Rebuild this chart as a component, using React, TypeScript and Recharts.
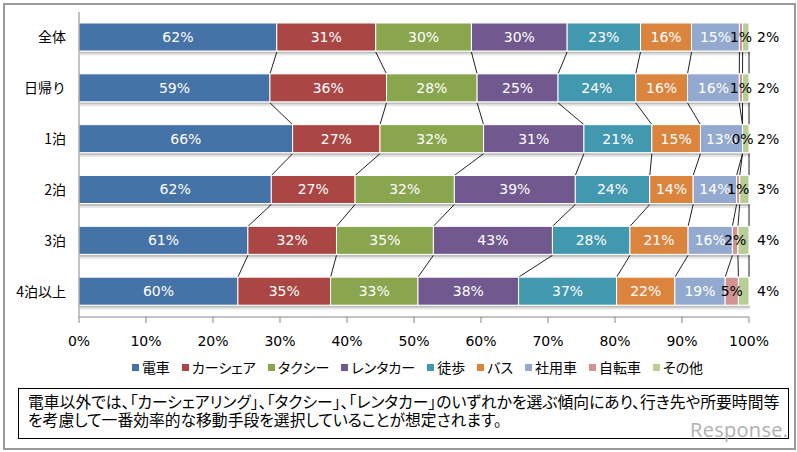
import React from 'react';
import * as R from 'recharts';

const { BarChart, Bar, XAxis, YAxis, Legend, LabelList, Customized } = R as any;

// ---- data ----
const categories = ['全体', '日帰り', '1泊', '2泊', '3泊', '4泊以上'];
const seriesNames = ['電車', 'カーシェア', 'タクシー', 'レンタカー', '徒歩', 'バス', '社用車', '自転車', 'その他'];
const seriesColors = ['#4572A7', '#AA4643', '#89A54E', '#71588F', '#4198AF', '#DB843D', '#93A9CF', '#D19392', '#B9CD96'];
const labelColors = ['#fff', '#fff', '#fff', '#fff', '#fff', '#fff', '#fff', '#000', '#000'];
const train = [62, 59, 66, 62, 61, 60];
const carShare = [31, 36, 27, 27, 32, 35];
const taxi = [30, 28, 32, 32, 35, 33];
const rentacar = [30, 25, 31, 39, 43, 38];
const walk = [23, 24, 21, 24, 28, 37];
const bus = [16, 16, 15, 14, 21, 22];
const company = [15, 16, 13, 14, 16, 19];
const bicycle = [1, 1, 0, 1, 2, 5];
const other = [2, 2, 2, 3, 4, 4];
const xTicks = [0, 0.1, 0.2, 0.3, 0.4, 0.5, 0.6, 0.7, 0.8, 0.9, 1];
const noteLines = [
  '電車以外では、「カーシェアリング」、「タクシー」、「レンタカー」のいずれかを選ぶ傾向にあり、行き先や所要時間等',
  'を考慮して一番効率的な移動手段を選択していることが想定されます。',
];

const seriesValues = [train, carShare, taxi, rentacar, walk, bus, company, bicycle, other];
const rows = categories.map((name, i) => {
  const r: any = { name };
  seriesNames.forEach((s, k) => { r[s] = seriesValues[k][i]; });
  return r;
});

// ---- layout ----
const W = 797;
const H = 452;
const MARGIN = { top: 12, right: 48, bottom: 105, left: 0 };
const BAR_SIZE = 28;
const Y_AXIS_W = 79;
const X_AXIS_H = 30;
const NUM_FONT = '"DejaVu Sans", "Noto Sans CJK JP", sans-serif';
const JP_FONT = '"Noto Sans CJK JP", sans-serif';

const usePlotAreaHook: any = (R as any).usePlotArea;

function SeriesLines() {
  const pa = usePlotAreaHook ? usePlotAreaHook() : undefined;
  const area = pa && pa.width
    ? pa
    : { x: MARGIN.left + Y_AXIS_W, y: MARGIN.top, width: W - MARGIN.left - MARGIN.right - Y_AXIS_W, height: H - MARGIN.top - MARGIN.bottom - X_AXIS_H };
  const n = categories.length;
  const step = area.height / n;
  const off = Math.floor((step - BAR_SIZE) / 2);
  const totals = categories.map((_, i) => seriesValues.reduce((s, arr) => s + arr[i], 0));
  const cum = (i: number, k: number) => {
    let s = 0;
    for (let j = 0; j <= k; j++) s += seriesValues[j][i];
    return s / totals[i];
  };
  const lines: any[] = [];
  for (let i = 0; i < n - 1; i++) {
    const yb = area.y + i * step + off + BAR_SIZE;
    const yt = area.y + (i + 1) * step + off;
    for (let k = 0; k < seriesNames.length; k++) {
      const x1 = area.x + cum(i, k) * area.width;
      const x2 = area.x + cum(i + 1, k) * area.width;
      lines.push(<line key={`${i}-${k}`} x1={x1} y1={yb + 1} x2={x2} y2={yt} stroke="#222" strokeWidth={1} />);
    }
  }
  return <g>{lines}</g>;
}

const ShadowBar = (props: any) => {
  const { x, y, width, height, fill } = props;
  if (width == null || height == null || width <= 0) return <g />;
  return (
    <g>
      <rect x={x + 1} y={y + height + 0.5} width={width} height={2} fill="#000" fillOpacity={0.25} />
      <rect x={x + 1} y={y + height + 2.5} width={width} height={2} fill="#000" fillOpacity={0.09} />
      <rect x={x} y={y} width={width} height={height} fill={fill} stroke="#fff" strokeWidth={1} />
    </g>
  );
};

const renderLegend = () => (
  <div style={{ display: 'flex', justifyContent: 'center', alignItems: 'center', gap: 12, fontFamily: JP_FONT, fontSize: 14, color: '#000', fontFeatureSettings: '"palt"', paddingLeft: 38 }}>
    {seriesNames.map((s, k) => (
      <span key={s} style={{ display: 'inline-flex', alignItems: 'center', whiteSpace: 'nowrap' }}>
        <span style={{ display: 'inline-block', width: 7, height: 7, background: seriesColors[k], marginRight: 3 }} />
        {s}
      </span>
    ))}
  </div>
);

export default function App() {
  return (
    <div style={{ position: 'absolute', left: 0, top: 0, width: W, height: H, background: '#fff' }}>
      <div style={{ position: 'absolute', left: 3, top: 3, width: 789, height: 443, border: '2px solid #9a9a9a' }} />
      <div style={{ position: 'absolute', left: 0, top: 0 }}>
        <BarChart
          width={W}
          height={H}
          data={rows}
          layout="vertical"
          stackOffset="expand"
          margin={MARGIN}
          barSize={BAR_SIZE}
        >
          <XAxis
            type="number"
            domain={[0, 1]}
            ticks={xTicks}
            tickFormatter={(v: number) => `${Math.round(v * 100)}%`}
            axisLine={{ stroke: '#868686' }}
            tickLine={{ stroke: '#868686' }}
            tickSize={6}
            tickMargin={13}
            height={X_AXIS_H}
            tick={{ fill: '#000', fontSize: 14, fontFamily: NUM_FONT }}
            interval={0}
          />
          <YAxis
            type="category"
            dataKey="name"
            width={Y_AXIS_W}
            axisLine={{ stroke: '#868686' }}
            tickLine={false}
            tickSize={0}
            tickMargin={13}
            tick={{ fill: '#000', fontSize: 14, fontFamily: JP_FONT }}
            interval={0}
          />
          {seriesNames.map((s, k) => (
            <Bar
              key={s}
              dataKey={s}
              name={s}
              stackId="a"
              fill={seriesColors[k]}
              isAnimationActive={false}
              shape={ShadowBar}
            >
              <LabelList
                dataKey={s}
                position={k === seriesNames.length - 1 ? 'right' : 'center'}
                offset={8}
                formatter={(v: any) => `${v}%`}
                fill={labelColors[k]}
                style={{ fontSize: 14, fontFamily: NUM_FONT, fill: labelColors[k] }}
              />
            </Bar>
          ))}
          <Customized component={SeriesLines} />
          <Legend
            layout="horizontal"
            verticalAlign="middle"
            align="center"
            content={renderLegend}
            wrapperStyle={{ top: 357, left: 0, width: W, height: 20 }}
          />
        </BarChart>
      </div>
      <div
        style={{
          position: 'absolute', left: 18, top: 388, width: 771, height: 51,
          border: '1px solid #000', fontFamily: JP_FONT, fontSize: 15.8, lineHeight: '17.5px',
          color: '#000', fontFeatureSettings: '"palt"', padding: '4px 0 0 9px', boxSizing: 'border-box',
          whiteSpace: 'nowrap',
        }}
      >
        {noteLines.map((l, i) => <div key={i}>{l}</div>)}
      </div>
      <div
        style={{
          position: 'absolute', left: 690, top: 416, fontFamily: '"Open Sans", sans-serif', fontSize: 20,
          color: '#b0b0b0', letterSpacing: 0.3,
        }}
      >
        Response.
      </div>
    </div>
  );
}
